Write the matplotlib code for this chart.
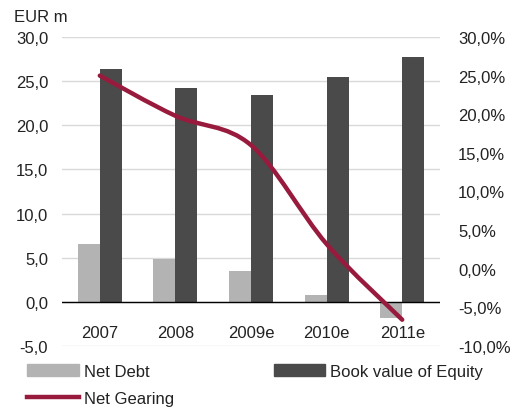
import numpy as np
import matplotlib.pyplot as plt
from matplotlib.path import Path
from matplotlib.patches import PathPatch, Patch
from matplotlib.lines import Line2D

plt.rcParams['font.family'] = ['Liberation Sans', 'DejaVu Sans']

# data
years = ['2007', '2008', '2009e', '2010e', '2011e']
net_debt = [6.6, 4.9, 3.55, 0.8, -1.8]
book_equity = [26.4, 24.2, 23.4, 25.45, 27.7]
net_gearing = [25.0, 19.8, 16.0, 3.2, -6.6]

c_light = '#b3b3b3'
c_dark = '#4a4a4a'
c_line = '#981b3d'
c_text = '#222222'

fig = plt.figure(figsize=(5.15, 4.1), dpi=100)
ax = fig.add_axes([62 / 515, 1 - 347 / 410, 378 / 515, 309 / 410])
ax2 = ax.twinx()

x = np.arange(len(years))
w = 0.29
ax.set_axisbelow(True)
ax.bar(x - w / 2, net_debt, w, color=c_light, zorder=2)
ax.bar(x + w / 2, book_equity, w, color=c_dark, zorder=2)
ax.axhline(0, color='black', lw=1.0, zorder=3)

ax.set_xlim(-0.5, len(years) - 0.5)
ax.set_ylim(-5, 30)
ax.set_yticks(np.arange(-5, 31, 5))
ax.set_yticklabels([f'{v:.1f}'.replace('.', ',') for v in np.arange(-5, 31, 5)])
ax.yaxis.grid(True, color='#d9d9d9', lw=1.0)
ax.set_xticks(x)
ax.set_xticklabels(years)
ax.tick_params(axis='x', length=0, pad=-15, labelsize=12, labelcolor=c_text)
ax.tick_params(axis='y', length=0, pad=10, labelsize=12, labelcolor=c_text)
for s in ax.spines.values():
    s.set_visible(False)

# smoothed line (bezier, catmull-rom style like Excel)
pts = np.column_stack([x, net_gearing]).astype(float)
verts = [pts[0]]
codes = [Path.MOVETO]
n = len(pts)
for i in range(n - 1):
    p0 = pts[max(i - 1, 0)]
    p1 = pts[i]
    p2 = pts[i + 1]
    p3 = pts[min(i + 2, n - 1)]
    c1 = p1 + (p2 - p0) / 6
    c2 = p2 - (p3 - p1) / 6
    verts += [c1, c2, p2]
    codes += [Path.CURVE4] * 3
ax2.add_patch(PathPatch(Path(verts, codes), facecolor='none', edgecolor=c_line,
                        lw=3.2, capstyle='round', zorder=4))

ax2.set_ylim(-10, 30)
ax2.set_yticks(np.arange(-10, 31, 5))
ax2.set_yticklabels([f'{v:.1f}%'.replace('.', ',') for v in np.arange(-10, 31, 5)])
ax2.tick_params(axis='y', length=0, pad=13, labelsize=12, labelcolor=c_text)
for s in ax2.spines.values():
    s.set_visible(False)

fig.text(14 / 515, 1 - 18 / 410, 'EUR m', fontsize=12, color=c_text, va='center', ha='left')

handles = [Patch(color=c_light), Line2D([], [], color=c_line, lw=3.2),
           Patch(color=c_dark)]
labels = ['Net Debt', 'Net Gearing', 'Book value of Equity']
fig.legend(handles, labels, ncol=2, loc='upper left',
           bbox_to_anchor=(27 / 515, 1 - 365 / 410), frameon=False,
           borderpad=0, borderaxespad=0, handlelength=3.1, handletextpad=0.3,
           columnspacing=6.0, labelspacing=0.7, fontsize=12, labelcolor=c_text)

fig.savefig('out.png', dpi=100)
